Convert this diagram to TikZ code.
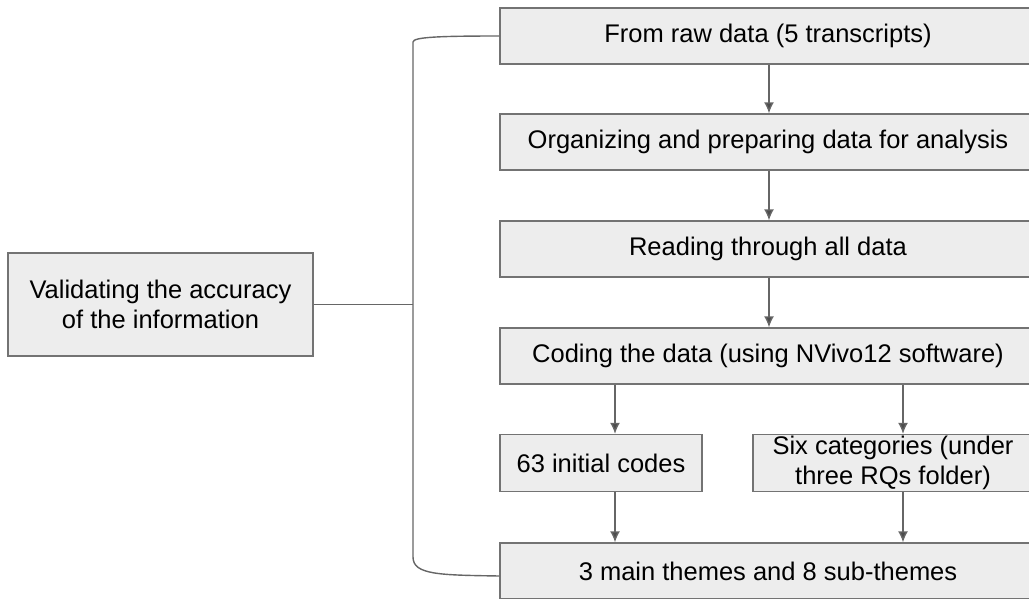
\documentclass[tikz,border=0pt]{standalone}
\usepackage{fontspec}
\setmainfont{Liberation Sans}
\usetikzlibrary{arrows,arrows.meta,positioning}
\usetikzlibrary{calc}

\begin{document}
\begin{tikzpicture}[x=1pt,y=-1pt,
  box/.style={draw=gray!90!black, fill=gray!14, line width=1.4pt, inner sep=0pt,
    align=center, font=\fontsize{25.5}{29.5}\selectfont},
  link/.style={draw=gray!80!black, line width=1.4pt},
  >={Latex[length=11pt,width=10pt,fill=gray!60!black]}]
\useasboundingbox (0,0) rectangle (1029,598);
% main column
\node[box, minimum width=536, minimum height=56] (raw) at (768,36) {From raw data (5 transcripts)};
\node[box, minimum width=536, minimum height=56] (org) at (768,142) {Organizing and preparing data for analysis};
\node[box, minimum width=536, minimum height=56] (read) at (768,249) {Reading through all data};
\node[box, minimum width=536, minimum height=56] (code) at (768,356) {Coding the data (using NVivo12 software)};
\node[box, minimum width=202, minimum height=57] (initial) at (601,463) {63 initial codes};
\node[box, minimum width=280, minimum height=57] (cat) at (893,463) {Six categories (under\\three RQs folder)};
\node[box, minimum width=536, minimum height=56] (theme) at (768,571) {3 main themes and 8 sub-themes};
% validation box
\node[box, minimum width=305, minimum height=103] (valid) at (160.5,304.5) {Validating the accuracy\\of the information};

\draw[link,->] (raw.south -| 769,0) -- (org.north -| 769,0);
\draw[link,->] (org.south -| 769,0) -- (read.north -| 769,0);
\draw[link,->] (read.south -| 769,0) -- (code.north -| 769,0);
\draw[link,->] (code.south -| 615,0) -- (initial.north -| 615,0);
\draw[link,->] (code.south -| 903,0) -- (cat.north -| 903,0);
\draw[link,->] (initial.south -| 615,0) -- (theme.north -| 615,0);
\draw[link,->] (cat.south -| 903,0) -- (theme.north -| 903,0);

% bracket
\coordinate (top) at (413,42);
\coordinate (bot) at (413,557);
\draw[link] (raw.west) .. controls (440,36) and (413,37) .. (top) -- (bot)
  .. controls (413,575) and (440,575) .. (theme.west |- 0,576);
\draw[link] (valid.east) -- (valid.east -| top);
\end{tikzpicture}
\end{document}
